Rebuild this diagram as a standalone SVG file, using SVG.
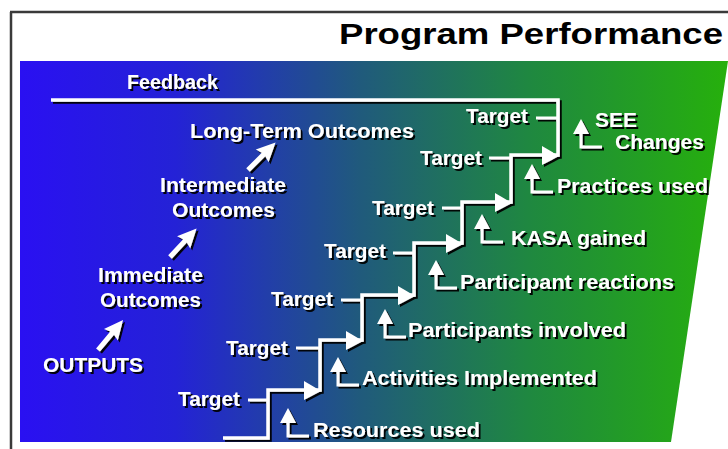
<svg xmlns="http://www.w3.org/2000/svg" xmlns:xlink="http://www.w3.org/1999/xlink" width="728" height="449" viewBox="0 0 728 449">
<style>
.t{font-family:"Liberation Sans",Arial,sans-serif;font-weight:bold;fill:#fff;font-size:20px}
.title{font-family:"Liberation Sans",Arial,sans-serif;font-weight:bold;fill:#000;font-size:30px}
.ln{fill:none;stroke:#fff;stroke-width:3.5;stroke-linejoin:miter;stroke-linecap:butt}
.tk{fill:none;stroke:#fff;stroke-width:3}
</style>
<defs>
<linearGradient id="bg" gradientUnits="userSpaceOnUse" x1="20" y1="0" x2="728" y2="0">
<stop offset="0" stop-color="#2a10f2"/>
<stop offset="0.22" stop-color="#2422d6"/>
<stop offset="0.48" stop-color="#205a7c"/>
<stop offset="0.72" stop-color="#1f8840"/>
<stop offset="1" stop-color="#26b00c"/>
</linearGradient>
<filter id="sh" x="-10%" y="-10%" width="130%" height="140%">
<feDropShadow dx="2" dy="2" stdDeviation="0.7" flood-color="#000" flood-opacity="0.95"/>
</filter>
<path id="rh" d="M-16,-9 L1,1 L-16,10 Z" fill="#fff"/>
<g id="up">
<polygon points="0,-28 8,-13 -8,-13" fill="#fff"/>
<path d="M0,-14 V0 H21" fill="none" stroke="#fff" stroke-width="3"/>
</g>
<path id="diag" d="M0,-2.5 L22,-2.5 L20,-9 L39,0 L20,9 L22,2.5 L0,2.5 Z" fill="#fff"/>
</defs>
<rect x="0" y="0" width="728" height="449" fill="#fff"/>
<path d="M10,12 H728 M11,12 V449" fill="none" stroke="#3a3a3a" stroke-width="2.5"/>
<polygon points="20,61 728,61 671,442 20,442" fill="url(#bg)"/>
<g id="title"><text class="title" x="339" y="44" textLength="384" lengthAdjust="spacingAndGlyphs">Program Performance</text></g>
<g filter="url(#sh)">
<g id="connectors">
<path class="ln" d="M223,438 H268 V390 H320 V340 H362 V295 H414 V243 H462 V202 H511 V155 H558 V100 H51"/>
<use xlink:href="#rh" transform="translate(320,390)"/>
<use xlink:href="#rh" transform="translate(362,340)"/>
<use xlink:href="#rh" transform="translate(414,295)"/>
<use xlink:href="#rh" transform="translate(462,243)"/>
<use xlink:href="#rh" transform="translate(511,202)"/>
<use xlink:href="#rh" transform="translate(558,155)"/>
<path class="tk" d="M248,400 H268 M296,348 H320 M341,300 H362 M393,253 H414 M442,208 H462 M489,158 H511 M536,118 H558"/>
<use xlink:href="#up" transform="translate(288,436)"/>
<use xlink:href="#up" transform="translate(338,385)"/>
<use xlink:href="#up" transform="translate(385,337)"/>
<use xlink:href="#up" transform="translate(436,288)"/>
<use xlink:href="#up" transform="translate(482,242)"/>
<use xlink:href="#up" transform="translate(532,192)"/>
<use xlink:href="#up" transform="translate(581,147)"/>
<use xlink:href="#diag" transform="translate(98,350) rotate(-50)"/>
<use xlink:href="#diag" transform="translate(170,257) rotate(-47)"/>
<use xlink:href="#diag" transform="translate(248,170) rotate(-45)"/>
</g>
<g id="feedback"><text class="t" x="127" y="89" font-size="22" textLength="91" lengthAdjust="spacingAndGlyphs">Feedback</text></g>
<g id="outputs"><text class="t" x="43" y="372" textLength="100" lengthAdjust="spacingAndGlyphs">OUTPUTS</text></g>
<g id="immediate">
<text class="t" x="98" y="282" textLength="105" lengthAdjust="spacingAndGlyphs">Immediate</text>
<text class="t" x="100" y="307" textLength="101" lengthAdjust="spacingAndGlyphs">Outcomes</text>
</g>
<g id="intermediate">
<text class="t" x="160" y="192" textLength="126" lengthAdjust="spacingAndGlyphs">Intermediate</text>
<text class="t" x="172" y="217" textLength="103" lengthAdjust="spacingAndGlyphs">Outcomes</text>
</g>
<g id="longterm"><text class="t" x="190" y="138" textLength="224" lengthAdjust="spacingAndGlyphs">Long-Term Outcomes</text></g>
<g id="target1"><text class="t" x="178" y="406" textLength="62" lengthAdjust="spacingAndGlyphs">Target</text></g>
<g id="target2"><text class="t" x="226" y="355" textLength="62" lengthAdjust="spacingAndGlyphs">Target</text></g>
<g id="target3"><text class="t" x="271" y="306" textLength="62" lengthAdjust="spacingAndGlyphs">Target</text></g>
<g id="target4"><text class="t" x="324" y="258" textLength="62" lengthAdjust="spacingAndGlyphs">Target</text></g>
<g id="target5"><text class="t" x="372" y="215" textLength="62" lengthAdjust="spacingAndGlyphs">Target</text></g>
<g id="target6"><text class="t" x="420" y="165" textLength="62" lengthAdjust="spacingAndGlyphs">Target</text></g>
<g id="target7"><text class="t" x="466" y="123" textLength="62" lengthAdjust="spacingAndGlyphs">Target</text></g>
<g id="resources"><text class="t" x="313" y="437" textLength="167" lengthAdjust="spacingAndGlyphs">Resources used</text></g>
<g id="activities"><text class="t" x="362" y="385" textLength="235" lengthAdjust="spacingAndGlyphs">Activities Implemented</text></g>
<g id="involved"><text class="t" x="408" y="337" textLength="218" lengthAdjust="spacingAndGlyphs">Participants involved</text></g>
<g id="reactions"><text class="t" x="460" y="289" textLength="214" lengthAdjust="spacingAndGlyphs">Participant reactions</text></g>
<g id="kasa"><text class="t" x="511" y="245" textLength="135" lengthAdjust="spacingAndGlyphs">KASA gained</text></g>
<g id="practices"><text class="t" x="557" y="193" textLength="151" lengthAdjust="spacingAndGlyphs">Practices used</text></g>
<g id="see">
<text class="t" x="595" y="127" textLength="42" lengthAdjust="spacingAndGlyphs">SEE</text>
<text class="t" x="615" y="149" textLength="89" lengthAdjust="spacingAndGlyphs">Changes</text>
</g>
</g>
</svg>
